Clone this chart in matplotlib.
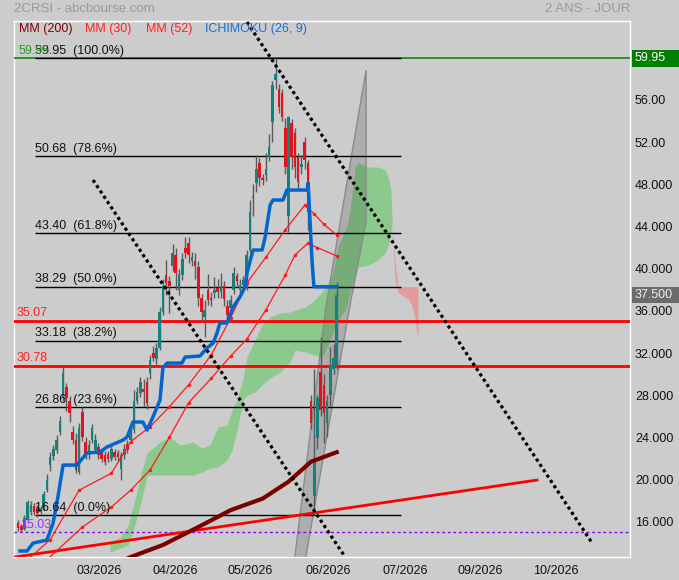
import numpy as np
import matplotlib.pyplot as plt
import matplotlib.transforms as mtransforms
from matplotlib.patches import Rectangle

plt.rcParams['font.family'] = ['Liberation Sans', 'DejaVu Sans']

# daily candles (trading-day index 0..99)
opens = [15.9, 15.6, 15.3, 16.2, 16.9, 17.5, 17.4, 16.9, 17.3, 19.0,
         21.4, 22.2, 22.8, 24.5, 27.8, 28.8, 27.5, 24.5, 23.8, 20.7,
         26.4, 23.6, 22.3, 23.8, 22.8, 23.1, 22.6, 22.3, 22.4, 22.0,
         22.6, 22.5, 21.0, 22.3, 23.4, 23.8, 24.7, 27.5, 28.2, 28.6,
         29.3, 30.1, 32.0, 31.4, 32.5, 35.9, 39.4, 38.8, 40.3, 41.3,
         38.0, 39.4, 42.0, 42.4, 40.7, 40.7, 40.2, 37.2, 35.4, 38.0,
         37.2, 37.7, 38.2, 37.8, 38.4, 36.5, 36.3, 38.0, 39.3, 38.0,
         38.5, 38.3, 41.8, 46.7, 48.1, 50.0, 48.6, 48.9, 50.6, 53.9,
         57.9, 57.0, 56.7, 53.3, 45.0, 53.8, 52.9, 50.6, 49.6, 52.0,
         50.0, 27.5, 18.4, 23.9, 30.2, 29.0, 25.4, 28.0, 30.5, 30.9]
closes = [15.4, 15.2, 16.4, 17.9, 17.6, 16.9, 16.8, 17.3, 18.6, 20.0,
          22.1, 22.9, 23.8, 25.6, 30.1, 27.7, 26.3, 23.8, 20.9, 24.9,
          24.0, 22.3, 23.3, 24.9, 23.8, 22.3, 22.0, 21.7, 22.0, 22.9,
          22.1, 22.1, 22.3, 22.9, 22.8, 24.7, 27.5, 28.3, 29.3, 28.3,
          27.3, 31.3, 31.5, 32.5, 35.9, 38.4, 38.6, 38.4, 41.5, 39.6,
          39.5, 40.9, 41.5, 41.3, 41.1, 40.3, 37.2, 35.9, 36.1, 37.0,
          37.0, 38.0, 37.8, 38.4, 37.1, 35.6, 37.0, 39.6, 38.8, 38.5,
          38.9, 41.3, 45.4, 46.9, 49.5, 48.6, 48.4, 49.5, 51.5, 57.4,
          58.5, 55.3, 54.4, 49.6, 54.4, 50.6, 49.6, 48.2, 49.9, 50.3,
          45.4, 25.4, 21.9, 27.7, 26.6, 26.3, 27.5, 30.9, 31.5, 37.5]
highs = [16.2, 15.8, 16.6, 18.1, 18.0, 17.8, 17.6, 17.5, 18.9, 20.5,
         22.6, 23.3, 24.2, 26.0, 30.7, 29.2, 27.9, 25.1, 24.4, 25.4,
         26.9, 24.0, 23.8, 25.3, 24.3, 23.5, 22.9, 22.7, 22.7, 23.3,
         22.9, 22.8, 22.6, 23.4, 23.8, 25.1, 28.5, 28.8, 29.7, 29.5,
         29.7, 31.8, 32.7, 33.0, 36.4, 39.0, 40.8, 39.3, 42.3, 42.0,
         40.0, 41.5, 43.0, 43.0, 41.6, 41.5, 40.7, 37.6, 37.0, 39.5,
         37.8, 39.2, 39.0, 39.6, 38.8, 37.0, 37.5, 40.2, 39.6, 39.0,
         39.3, 41.8, 46.5, 48.0, 50.8, 50.5, 49.0, 51.0, 52.8, 57.8,
         59.95, 57.5, 57.0, 54.3, 54.5, 54.2, 53.3, 51.0, 50.8, 52.5,
         50.3, 28.0, 30.5, 28.0, 33.5, 30.0, 28.0, 32.6, 32.9, 38.7]
lows = [15.1, 15.03, 15.2, 16.0, 16.6, 16.6, 16.5, 16.7, 17.1, 18.8,
        20.8, 21.9, 22.5, 24.2, 27.5, 26.5, 25.5, 23.4, 20.6, 20.5,
        23.7, 22.0, 22.0, 23.5, 22.5, 22.0, 21.7, 21.4, 21.7, 21.8,
        21.9, 21.8, 20.0, 22.0, 22.5, 23.5, 24.4, 27.2, 27.8, 27.0,
        26.7, 29.5, 31.2, 31.0, 32.3, 35.6, 37.5, 35.8, 39.8, 38.0,
        37.5, 38.9, 41.0, 40.5, 40.3, 39.0, 36.5, 35.0, 33.5, 36.6,
        36.5, 37.2, 37.2, 37.2, 36.5, 35.2, 35.8, 37.6, 38.3, 37.7,
        38.2, 38.0, 41.5, 45.0, 47.3, 47.8, 47.9, 48.3, 50.2, 52.0,
        57.0, 54.8, 54.0, 49.0, 43.5, 49.5, 48.6, 47.5, 49.0, 49.5,
        43.7, 24.8, 16.64, 22.9, 26.0, 23.5, 24.0, 27.0, 30.0, 30.5]

# moving averages
ma200_i = [28, 35, 45, 56, 66, 76, 84, 91, 99]
ma200_v = [11.7, 12.66, 13.8, 15.5, 17.1, 18.2, 19.8, 21.7, 22.6]
ma30_i = [3, 10, 19, 29, 35, 41, 47, 53, 60, 66, 71, 77, 83, 89, 92, 95, 99]
ma30_v = [12.4, 14.3, 19.0, 20.6, 23.6, 25.0, 26.9, 29.0, 31.8, 35.3,
          38.6, 41.1, 43.7, 46.0, 45.2, 44.2, 43.2]
ma52_i = [9, 20, 29, 35, 41, 47, 53, 60, 66, 71, 77, 83, 86, 90, 93, 99]
ma52_v = [12.4, 15.5, 17.4, 19.0, 20.9, 24.0, 27.3, 29.6, 31.7, 33.3,
          36.1, 39.4, 41.3, 42.4, 42.0, 41.2]

# ichimoku kijun (26)
kijun_i = [0.6, 2.8, 4.7, 9.0, 10.9, 12.4, 14.0, 18.3, 21.4, 25.5, 27.6,
           32.6, 33.9, 35.7, 38.8, 40.1, 41.9, 44.1, 45.0, 46.3, 50.9,
           51.9, 56.5, 58.7, 60.6, 61.8, 62.7, 64.9, 66.8, 68.9, 70.5,
           71.1, 73.0, 75.8, 76.7, 78.3, 79.2, 82.3, 83.5, 89.8, 90.1,
           91.3, 91.9, 99.1]
kijun_v = [13.23, 13.23, 13.98, 14.27, 15.88, 18.35, 21.38, 21.38, 22.52,
           22.61, 23.09, 23.75, 24.04, 25.46, 25.46, 24.70, 25.93, 27.55,
           30.58, 31.05, 31.05, 31.62, 31.72, 32.48, 32.95, 33.90, 34.85,
           34.85, 36.36, 37.31, 38.26, 39.59, 41.77, 41.77, 42.91, 46.04,
           46.51, 46.51, 47.46, 47.46, 48.12, 40.82, 38.29, 38.29]

# ichimoku cloud (green part then red part)
cloud_i = [28.6, 31.7, 34.2, 36.3, 38.5, 40.1, 44.1, 47.2, 50.3, 54.4,
           57.1, 59.6, 62.1, 64.9, 66.5, 68.0, 69.9, 71.1, 73.6, 75.8,
           78.3, 81.4, 84.5, 86.0, 89.1, 92.2, 94.4, 96.3, 97.5, 99.4,
           101.6, 102.5, 103.7, 104.7, 105.6, 108.7, 111.8, 114.0, 115.2,
           115.8, 116.2]
cloud_top = [13.98, 14.55, 15.69, 18.06, 20.91, 22.52, 23.56, 24.04, 23.28,
             23.56, 22.99, 23.28, 24.99, 25.17, 26.60, 27.55, 29.63, 31.62,
             33.24, 34.66, 35.42, 35.80, 35.89, 36.08, 36.37, 37.03, 37.79,
             38.64, 39.21, 42.06, 43.67, 44.43, 46.99, 49.64, 50.02, 49.64,
             49.64, 49.36, 48.41, 47.46, 44.33]
cloud_bot = [13.13, 13.51, 13.80, 15.69, 18.25, 20.43, 20.43, 20.43, 20.43,
             20.43, 20.72, 21.10, 21.19, 21.86, 22.80, 24.70, 27.55, 28.02,
             28.30, 28.97, 29.63, 30.20, 31.15, 32.29, 32.10, 31.81, 31.62,
             32.76, 33.71, 35.13, 36.08, 37.03, 38.45, 39.21, 40.16, 40.35,
             40.82, 41.49, 42.43, 43.48, 44.33]
red_i = [116.2, 117.1, 118.0, 119.6, 121.1, 122.4, 123.3, 124.2]
red_top = [44.33, 40.63, 38.29, 38.29, 38.29, 38.29, 38.29, 38.29]
red_bot = [44.10, 38.93, 37.79, 37.41, 37.12, 36.46, 35.32, 33.24]

# drawings
fib_levels = [59.95, 50.68, 43.40, 38.29, 33.18, 26.86, 16.64]
fib_pcts = ['100.0%', '78.6%', '61.8%', '50.0%', '38.2%', '23.6%', '0.0%']
wedge_i = [85.5, 95.7, 108.1, 108.1, 103.1, 88.7]
wedge_v = [11.5, 36.55, 58.84, 44.43, 36.55, 11.5]
dot1_i, dot1_v = [71.1, 178.3], [63.39, 13.98]
dot2_i, dot2_v = [23.3, 101.6], [48.41, 12.66]
support_i, support_v = [-0.9, 161.2], [12.66, 19.96]

month_pos = [25.2, 48.9, 72.0, 96.3, 120.2, 143.5, 167.1]
month_lab = ['03/2026', '04/2026', '05/2026', '06/2026', '07/2026', '09/2026', '10/2026']
ytick_v = [16, 20, 24, 28, 32, 36, 40, 44, 48, 52, 56, 60]
ytick_lab = ['16.000', '20.000', '24.000', '28.000', '32.000', '36.000', '40.000',
             '44.000', '48.000', '52.00', '56.00', '60.00']

BG = '#cccccc'
fig = plt.figure(figsize=(6.79, 5.80), dpi=100)
fig.patch.set_facecolor(BG)
ax = fig.add_axes([14/679, 23/580, 616/679, 536/580])
ax.set_facecolor(BG)
ax.set_xlim(-1.24, 190.06)
ax.set_ylim(12.66, 63.49)

# cloud
ax.fill_between(cloud_i, cloud_bot, cloud_top, color='#8cc98c', lw=0, zorder=1)
ax.fill_between(red_i, red_bot, red_top, color='#e39a9a', lw=0, zorder=1)

# gray wedge
ax.fill(wedge_i, wedge_v, fc=(0, 0, 0, 0.15), ec='#8a8a8a', lw=1, zorder=2)

# horizontal levels
ax.axhline(59.95, color='#118811', lw=1.2, zorder=3)
ax.hlines(fib_levels, 5.3, 118.9, color='black', lw=1, zorder=3)
ax.axhline(35.07, color='#ff0000', lw=2, zorder=3)
ax.axhline(30.78, color='#ff0000', lw=2, zorder=3)
ax.axhline(15.03, color='#8800ff', lw=1, ls=(0, (2, 2)), zorder=3)
ax.plot(support_i, support_v, color='#ff0000', lw=2, zorder=3)

# candles
o = np.array(opens); c = np.array(closes)
h = np.array(highs); l = np.array(lows)
days = np.arange(len(c))
up = c >= o
ax.vlines(days, l, h, color='#5a5a5a', lw=1, zorder=4)
body_bot = np.minimum(o, c)
body_h = np.maximum(np.abs(c - o), 0.15)
ax.bar(days, body_h, bottom=body_bot, width=0.8,
       color=np.where(up, '#16807a', '#e8101a'), lw=0, zorder=5)

# indicators
ax.plot(ma200_i, ma200_v, color='#7a0000', lw=3, zorder=6)
ax.plot(ma52_i, ma52_v, color='#ff1a1a', lw=0.9, marker='.', ms=3, zorder=6)
ax.plot(ma30_i, ma30_v, color='#ff1a1a', lw=0.9, marker='.', ms=3, zorder=6)
ax.plot(kijun_i, kijun_v, color='#0066cc', lw=2.5, zorder=7)

# dotted trend lines
for xi, yv in [(dot1_i, dot1_v), (dot2_i, dot2_v)]:
    ax.plot(xi, yv, color='black', lw=2.3, ls=(0, (1, 1)), zorder=8)

# labels on lines
for lv, pct in zip(fib_levels, fib_pcts):
    ax.text(5.3, lv + 0.12, f'{lv:.2f}  ({pct})', va='bottom', ha='left',
            fontsize=9, color='#111111', zorder=9)
ax.text(0.2, 59.95 + 0.15, '59.95', color='#22a022', fontsize=9, va='bottom', zorder=9)
ax.text(-0.3, 35.07 + 0.15, '35.07', color='#ff2020', fontsize=9, va='bottom', zorder=9)
ax.text(-0.3, 30.78 + 0.15, '30.78', color='#ff2020', fontsize=9, va='bottom', zorder=9)
ax.text(0.6, 15.03 + 0.1, '15.03', color='#9933ff', fontsize=9, va='bottom', zorder=9)

# legend
leg = [('MM (200)', '#800000', 0.008), ('MM (30)', '#ff2020', 0.116),
       ('MM (52)', '#ff2020', 0.214), ('ICHIMOKU (26, 9)', '#1a6fd0', 0.310)]
for txt, col, xp in leg:
    ax.text(xp, 0.985, txt, transform=ax.transAxes, color=col, fontsize=9,
            va='center', ha='left', zorder=9)

# axes styling
for sp in ax.spines.values():
    sp.set_color('white')
    sp.set_linewidth(1)
ax.yaxis.tick_right()
ax.set_yticks(ytick_v)
ax.set_yticklabels(ytick_lab)
ax.set_xticks(month_pos)
ax.set_xticklabels(month_lab)
ax.tick_params(axis='y', length=0, pad=3.6, labelsize=9, labelcolor='#111111')
ax.tick_params(axis='x', length=0, pad=6, labelsize=9, labelcolor='#111111')

# price boxes on the right
trans = mtransforms.blended_transform_factory(ax.transAxes, ax.transData)
ax.add_patch(Rectangle((1.0032, 59.95 - 0.8), 0.08, 1.6, transform=trans,
                       fc='#008000', ec='none', clip_on=False, zorder=10))
ax.text(1.0081, 59.95, '59.95', transform=trans, color='white', fontsize=9,
        va='center', ha='left', clip_on=False, zorder=11)
ax.add_patch(Rectangle((1.0032, 37.5 - 0.8), 0.08, 1.6, transform=trans,
                       fc='#6b6b6b', ec='none', clip_on=False, zorder=10))
ax.text(1.0081, 37.5, '37.500', transform=trans, color='#eeeeee', fontsize=9,
        va='center', ha='left', clip_on=False, zorder=11)

fig.text(14/679, 1 - 9/580, '2CRSI - abcbourse.com', color='#9a9a9a',
         fontsize=9.5, va='center', ha='left')
fig.text(630/679, 1 - 9/580, '2 ANS - JOUR', color='#9a9a9a',
         fontsize=9.5, va='center', ha='right')

fig.savefig('out.png', dpi=100, facecolor=BG)
